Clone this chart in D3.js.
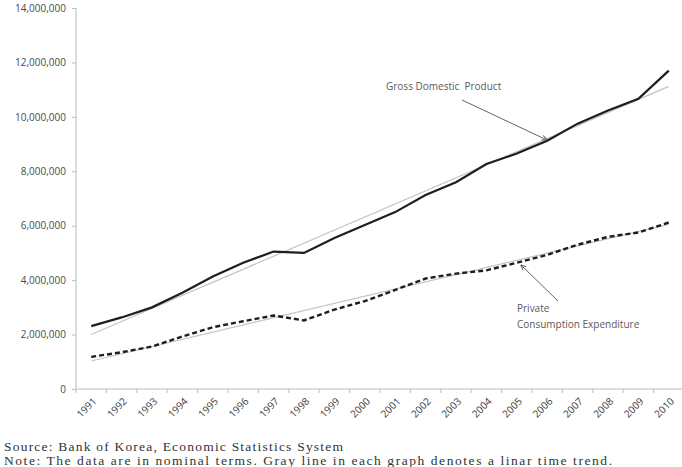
<!DOCTYPE html>
<html>
<head>
<meta charset="utf-8">
<script src="https://cdn.jsdelivr.net/npm/d3@7"></script>
<style>
  body { margin: 0; background: #fff; }
</style>
</head>
<body>
<div id="canvas"></div>
<script>
// DATA
const years = ["1991","1992","1993","1994","1995","1996","1997","1998","1999","2000",
               "2001","2002","2003","2004","2005","2006","2007","2008","2009","2010"];
const gdp = [2310000, 2630000, 3000000, 3540000, 4130000, 4640000, 5050000, 5000000, 5550000, 6030000,
             6500000, 7130000, 7600000, 8270000, 8650000, 9120000, 9750000, 10230000, 10660000, 11700000];
const pce = [1180000, 1350000, 1560000, 1930000, 2270000, 2490000, 2700000, 2520000, 2920000, 3230000,
             3640000, 4060000, 4240000, 4360000, 4640000, 4930000, 5300000, 5590000, 5750000, 6120000];
// linear trend lines (value at first and last year)
const gdpTrend = [2000000, 11120000];
const pceTrend = [1030000, 6050000];
const yTicks = [0, 2000000, 4000000, 6000000, 8000000, 10000000, 12000000, 14000000];

// DIMENSIONS
const width = 682, height = 467;
const plotLeft = 76, plotBottom = 389, plotTop = 8, band = 30.4;

const svg = d3.select("#canvas").append("svg")
  .attr("width", width).attr("height", height);

const x = d3.scaleBand().domain(years).range([plotLeft, plotLeft + band * years.length]);
const y = d3.scaleLinear().domain([0, 14000000]).range([plotBottom, plotTop]);
const cx = d => x(d) + x.bandwidth() / 2;

// Y AXIS
const yAxis = svg.append("g")
  .attr("transform", `translate(${plotLeft},0)`)
  .call(d3.axisLeft(y).tickValues(yTicks).tickSize(4).tickPadding(6)
    .tickFormat(d => d3.format(",")(d)));
yAxis.select(".domain").attr("stroke", "#bdbdbd").attr("d", `M0,${plotTop}V${plotBottom}`);
yAxis.selectAll(".tick line").attr("stroke", "#bdbdbd");
yAxis.selectAll("text").attr("fill", "#4a4a4a").style("font-family", "'Open Sans', sans-serif").style("font-size", "10px");

// X AXIS
const xAxis = svg.append("g")
  .attr("transform", `translate(0,${plotBottom})`)
  .call(d3.axisBottom(x).tickSize(0).tickFormat(""));
xAxis.select(".domain").attr("stroke", "#bdbdbd").attr("d", `M${plotLeft},0H${width}`);
svg.append("g").selectAll("line")
  .data(years)
  .join("line")
  .attr("x1", d => x(d)).attr("x2", d => x(d))
  .attr("y1", plotBottom).attr("y2", plotBottom + 4)
  .attr("stroke", "#bdbdbd");
svg.append("g").selectAll("text")
  .data(years)
  .join("text")
  .attr("transform", d => `translate(${cx(d) + 6},${plotBottom + 13}) rotate(-45)`)
  .attr("text-anchor", "end")
  .attr("fill", "#3a3a3a")
  .style("font-family", "'Open Sans', sans-serif")
  .style("font-size", "10px")
  .text(d => d);

// TREND LINES
const first = years[0], last = years[years.length - 1];
[gdpTrend, pceTrend].forEach(t => {
  svg.append("line")
    .attr("x1", cx(first)).attr("y1", y(t[0]))
    .attr("x2", cx(last)).attr("y2", y(t[1]))
    .attr("stroke", "#c4c4c4").attr("stroke-width", 1.2);
});

// SERIES
const line = d3.line().x((d, i) => cx(years[i])).y(d => y(d));
svg.append("path").datum(gdp)
  .attr("d", line).attr("fill", "none")
  .attr("stroke", "#1e1e1e").attr("stroke-width", 2.2);
svg.append("path").datum(pce)
  .attr("d", line).attr("fill", "none")
  .attr("stroke", "#1e1e1e").attr("stroke-width", 2.4)
  .attr("stroke-dasharray", "5,3");

// ANNOTATIONS
svg.append("defs").append("marker")
  .attr("id", "arrow").attr("viewBox", "0 0 10 10")
  .attr("refX", 9).attr("refY", 5)
  .attr("markerWidth", 6).attr("markerHeight", 6)
  .attr("orient", "auto")
  .append("path").attr("d", "M0,1L10,5L0,9").attr("fill", "none").attr("stroke", "#555").attr("stroke-width", 1.5);

const note = (txt, tx, ty) => svg.append("text")
  .attr("x", tx).attr("y", ty)
  .attr("fill", "#5a5a5a")
  .style("font-family", "'Open Sans', sans-serif")
  .style("font-size", "10px")
  .style("white-space", "pre")
  .text(txt);

note("Gross Domestic  Product", 386, 90);
svg.append("line")
  .attr("x1", 462).attr("y1", 100).attr("x2", 547).attr("y2", 140)
  .attr("stroke", "#666").attr("stroke-width", 1).attr("marker-end", "url(#arrow)");

note("Private", 517, 312);
note("Consumption Expenditure", 517, 328);
svg.append("line")
  .attr("x1", 558).attr("y1", 301).attr("x2", 521).attr("y2", 265)
  .attr("stroke", "#666").attr("stroke-width", 1).attr("marker-end", "url(#arrow)");

// SOURCE / NOTE
svg.append("text")
  .attr("x", 4).attr("y", 451)
  .attr("fill", "#333")
  .style("font-family", "'Liberation Serif', serif").style("font-size", "13.5px")
  .attr("textLength", 339).attr("lengthAdjust", "spacing")
  .text("Source: Bank of Korea, Economic Statistics System");
svg.append("text")
  .attr("x", 4).attr("y", 465)
  .attr("fill", "#333")
  .style("font-family", "'Liberation Serif', serif").style("font-size", "13.5px")
  .attr("textLength", 608).attr("lengthAdjust", "spacing")
  .text("Note: The data are in nominal terms. Gray line in each graph denotes a linar time trend.");
</script>
</body>
</html>
